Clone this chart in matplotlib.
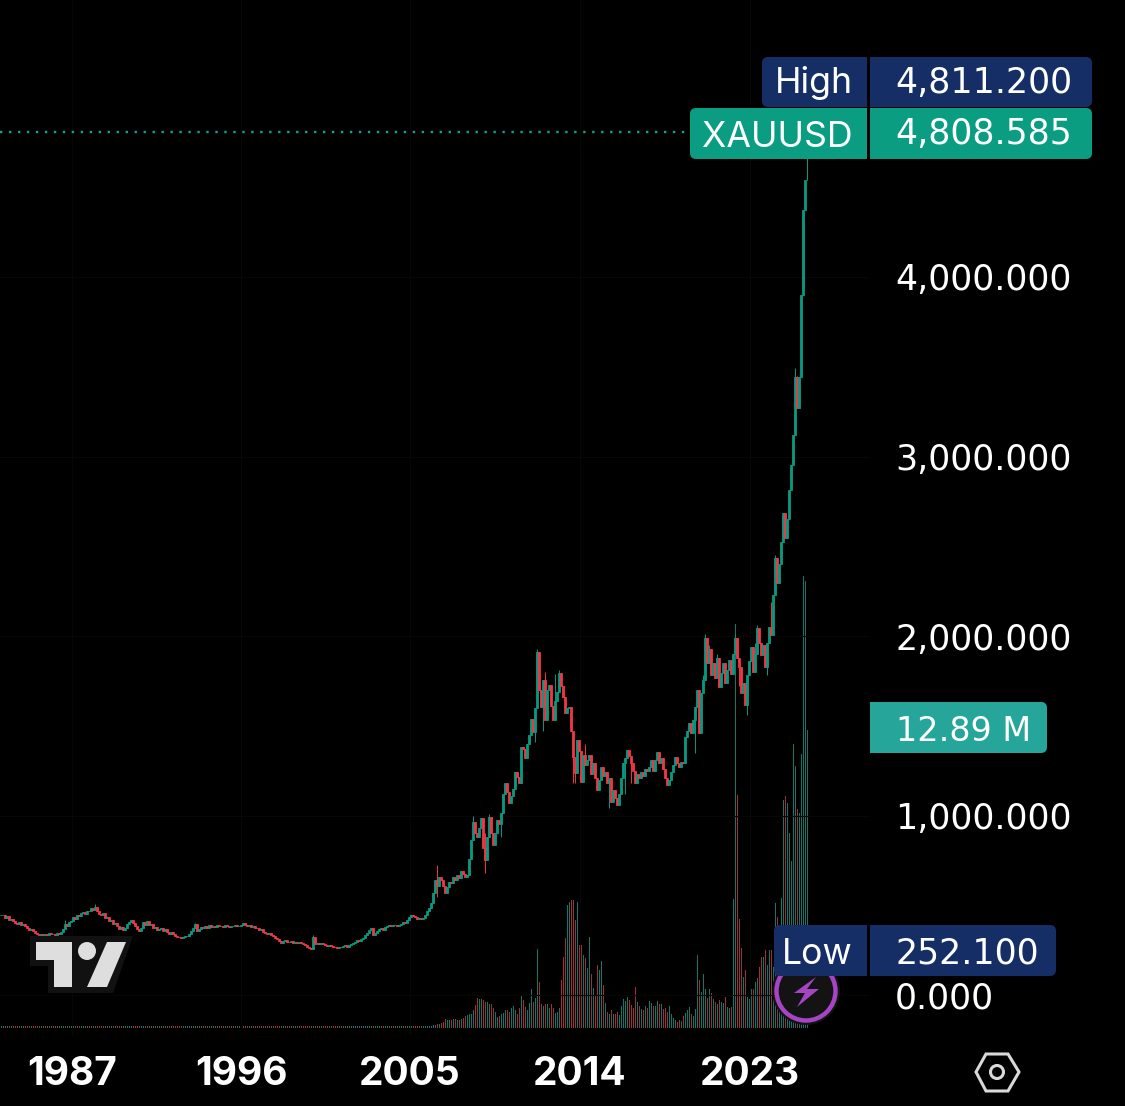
import matplotlib
matplotlib.use('Agg')
import matplotlib.pyplot as plt
from matplotlib.patches import FancyBboxPatch, Rectangle, Polygon, Circle
import numpy as np

plt.rcParams['font.family'] = ['Inter', 'DejaVu Sans']

# closes per candle, ten per row
closes = [
    445, 448, 430, 438, 420, 425, 410, 400, 396, 405,
    392, 398, 385, 375, 362, 368, 355, 345, 340, 336,
    338, 332, 340, 335, 345, 338, 342, 336, 348, 340,
    352, 365, 395, 385, 405, 412, 432, 425, 445, 440,
    455, 462, 452, 470, 468, 482, 475, 492, 470, 452,
    445, 458, 430, 436, 412, 418, 395, 402, 385, 370,
    378, 362, 372, 398, 405, 418, 402, 385, 365, 358,
    372, 405, 392, 412, 388, 395, 372, 378, 362, 368,
    372, 358, 365, 350, 342, 352, 338, 330, 325, 322,
    318, 322, 330, 328, 340, 355, 372, 395, 355, 365,
    378, 372, 382, 376, 388, 380, 385, 378, 388, 382,
    384, 378, 388, 384, 380, 385, 382, 388, 382, 386,
    388, 400, 392, 385, 388, 380, 382, 376, 372, 362,
    365, 352, 348, 340, 345, 332, 328, 318, 312, 300,
    292, 300, 305, 298, 295, 302, 292, 295, 288, 296,
    290, 284, 278, 270, 262, 258, 325, 285, 290, 282,
    292, 285, 278, 272, 280, 274, 268, 265, 262, 268,
    265, 272, 280, 268, 276, 285, 290, 298, 306, 300,
    312, 318, 332, 345, 362, 372, 334, 345, 355, 365,
    372, 362, 378, 385, 390, 384, 388, 392, 385, 390,
    396, 408, 402, 420, 432, 446, 440, 432, 426, 429,
    424, 430, 445, 470, 485, 510, 568, 640, 610, 657,
    640, 610, 568, 600, 630, 625, 655, 640, 668, 650,
    690, 672, 660, 668, 760, 863, 964, 905, 880, 930,
    986, 820, 752, 880, 992, 900, 837, 905, 975, 950,
    1014, 1120, 1181, 1130, 1070, 1110, 1150, 1242, 1215, 1181,
    1382, 1370, 1320, 1400, 1448, 1540, 1465, 1600, 1911, 1700,
    1604, 1755, 1532, 1700, 1727, 1610, 1532, 1640, 1688, 1794,
    1720, 1660, 1571, 1600, 1604, 1470, 1326, 1237, 1420, 1360,
    1187, 1337, 1280, 1310, 1337, 1230, 1290, 1210, 1142, 1200,
    1270, 1220, 1240, 1180, 1210, 1075, 1140, 1100, 1058, 1120,
    1210, 1292, 1320, 1365, 1330, 1290, 1250, 1181, 1230, 1210,
    1242, 1220, 1260, 1250, 1270, 1309, 1250, 1310, 1354, 1290,
    1320, 1260, 1210, 1170, 1200, 1240, 1280, 1326, 1290, 1270,
    1300, 1290, 1437, 1470, 1515, 1460, 1530, 1604, 1699, 1460,
    1680, 1755, 1990, 1850, 1930, 1780, 1850, 1766, 1880, 1716,
    1794, 1850, 1738, 1810, 1866, 1790, 1900, 1989, 1880, 1830,
    1682, 1740, 1616, 1783, 1860, 1939, 1800, 1900, 2045, 1960,
    1894, 1950, 1830, 1960, 2050, 2005, 2228, 2434, 2295, 2400,
    2524, 2685, 2546, 2650, 2813, 2953, 3120, 3443, 3270, 3443,
    3900, 4373, 4540, 4808.585,
]

# the wicks that are long enough to see, candle index -> price
wick_highs = {32: 420, 47: 505, 97: 401, 156: 334, 218: 724, 236: 1000, 242: 900,
              244: 1010, 268: 1925, 269: 1911, 272: 1800, 277: 1790, 279: 1810,
              286: 1340, 292: 1400, 351: 1780, 352: 2010, 354: 1950, 358: 1900,
              367: 2010, 377: 1960, 378: 2060, 385: 2190, 387: 2450,
              397: 3493, 398: 3450, 403: 4811.2}
wick_lows = {218: 546, 242: 680, 250: 880, 267: 1410, 271: 1470, 286: 1181, 287: 1181,
             304: 1040, 312: 1120, 315: 1180, 347: 1350, 369: 1720, 373: 1560,
             383: 1780, 400: 3443}

# volume bars, in units that are scaled so the last bar reads 12.89 M
early_volume = [2] * 215
later_volume = [
    2, 3, 3, 4, 4, 5, 6, 9, 8, 8, 8, 9, 9, 8, 8, 9, 10, 12, 13, 14,
    14, 18, 23, 30, 29, 29, 28, 26, 26, 24, 24, 20, 16, 11, 12, 14, 15, 18, 18, 16,
    20, 22, 18, 14, 20, 33, 28, 21, 18, 25, 39, 26, 30, 79, 46, 24, 22, 24, 24, 20,
    24, 20, 15, 16, 20, 48, 71, 90, 123, 126, 128, 128, 108, 126, 83, 83, 73, 70, 60, 91,
    54, 40, 33, 63, 58, 67, 43, 25, 16, 14, 18, 14, 14, 16, 13, 22, 29, 27, 31, 28,
    23, 20, 41, 26, 22, 19, 18, 22, 20, 27, 25, 22, 22, 27, 24, 24, 19, 20, 16, 22,
    14, 10, 8, 6, 8, 7, 12, 15, 18, 21, 14, 12, 19, 73, 48, 36, 54, 39, 30, 39,
    35, 29, 26, 24, 28, 26, 25, 31, 21, 20, 21, 129, 404, 233, 109, 80, 51, 58, 31, 29,
    39, 39, 46, 50, 61, 71, 71, 78, 63, 78, 78, 61, 125, 111, 70, 130, 228, 232, 225, 195,
    167, 284, 262, 219, 215, 274, 452, 447, 298,
]
volume = early_volume + later_volume

price_ticks = [0, 1000, 2000, 3000, 4000]
price_labels = ['0.000', '1,000.000', '2,000.000', '3,000.000', '4,000.000']
year_ticks = [35.5, 120, 204.5, 289.5, 374.5]
year_labels = ['1987', '1996', '2005', '2014', '2023']
last_price = 4808.585

UP = '#089981'
DOWN = '#F23645'
UP_VOL = '#14756a'
DOWN_VOL = '#9a3238'
NAVY = '#152f66'
TAG_GREEN = '#0a9d82'
W, H = 1125, 1106
AX_RIGHT, AX_BOTTOM = 870, 1035

fig = plt.figure(figsize=(W / 100, H / 100), dpi=100, facecolor='black')
ax = fig.add_axes([0, 1 - AX_BOTTOM / H, AX_RIGHT / W, AX_BOTTOM / H])
vol_ax = ax.twinx()
ax.set_zorder(2)
vol_ax.set_zorder(1)
ax.patch.set_visible(False)
vol_ax.set_facecolor('black')

closes = np.array(closes, dtype=float)
opens = np.r_[closes[0], closes[:-1]]
idx = np.arange(len(closes))
up = closes >= opens

for i in idx:
    colour = UP if up[i] else DOWN
    hi = wick_highs.get(i, max(opens[i], closes[i]))
    lo = wick_lows.get(i, min(opens[i], closes[i]))
    ax.vlines(i, lo, hi, color=colour, lw=0.7, zorder=3)
# the newest candle is only a sliver in the reference
body_width = np.where(idx == idx[-1], 0.4, 1.35)
ax.bar(idx, np.abs(closes - opens), bottom=np.minimum(opens, closes), width=body_width,
       color=[UP if u else DOWN for u in up], edgecolor=[UP if u else DOWN for u in up],
       linewidth=0.6, zorder=4)

# price scale: 179.5 px per 1000, 0 sits at y=995
ax.set_xlim(-0.5, (AX_RIGHT - 1) / 2)
ax.set_ylim((995 - AX_BOTTOM) / 0.1795, 995 / 0.1795)
ax.plot([-0.5, 345], [last_price, last_price], color='#0aa88e', lw=1.7, zorder=2,
        linestyle=(0, (1.0, 2.8)))

vol_scale = 12.89 / volume[-1]
vol_m = np.array(volume) * vol_scale
vol_ax.bar(idx, vol_m, width=0.5, color=[UP_VOL if u else DOWN_VOL for u in up], linewidth=0)
vol_ax.set_ylim(-(AX_BOTTOM - 1027.5) * vol_scale, 1027.5 * vol_scale)
vol_ax.set_yticks([])

ax.yaxis.tick_right()
ax.set_yticks(price_ticks)
ax.set_yticklabels(price_labels, fontsize=25, color='white', ha='left', va='center_baseline',
                   family='DejaVu Sans')
ax.set_xticks(year_ticks)
ax.set_xticklabels(year_labels, fontsize=28, color='white', fontweight='bold')
ax.tick_params(axis='y', length=0, pad=18)
ax.tick_params(axis='x', length=0, pad=15)
ax.grid(True, color='#070707', lw=0.8)
ax.set_axisbelow(True)
for a in (ax, vol_ax):
    for s in a.spines.values():
        s.set_visible(False)

# overlay in pixel coordinates for the tags and the icons
over = fig.add_axes([0, 0, 1, 1], zorder=5)
over.set_xlim(0, W)
over.set_ylim(H, 0)
over.axis('off')
over.patch.set_visible(False)


def tag(x0, x1, y0, y1, colour, square_side=None):
    over.add_patch(FancyBboxPatch((x0 + 6, y0 + 6), x1 - x0 - 12, y1 - y0 - 12,
                                  boxstyle='round,pad=6,rounding_size=6',
                                  fc=colour, ec='none', zorder=2))
    if square_side == 'right':
        over.add_patch(Rectangle((x1 - 10, y0), 10, y1 - y0, fc=colour, ec='none', zorder=2))
    if square_side == 'left':
        over.add_patch(Rectangle((x0, y0), 10, y1 - y0, fc=colour, ec='none', zorder=2))


# purple lightning badge, partly under the Low tag
over.add_patch(Circle((806, 991), 34, fc='#131313', ec='none', zorder=1))
over.add_patch(Circle((806, 991), 29.5, fc='#131313', ec='#a545c4', lw=3.2, zorder=1))
over.add_patch(Polygon([(816, 977), (794, 993), (805, 993), (797, 1007), (819, 989), (807, 989)],
                       fc='#a545c4', ec='none', zorder=1))

tag(762, 867, 57, 107, NAVY, 'right')
tag(870, 1092, 57, 107, NAVY, 'left')
tag(690, 867, 108, 159, TAG_GREEN, 'right')
tag(870, 1092, 108, 159, TAG_GREEN, 'left')
tag(870, 1047, 702, 753, '#26a69a', 'left')
tag(774, 867, 925, 976, NAVY, 'right')
tag(870, 1056, 925, 976, NAVY, 'left')

for txt, y in (('High', 93), ('XAUUSD', 147), ('Low', 964)):
    over.text(853, y, txt, color='white', fontsize=25.7, ha='right', va='baseline', zorder=3)
for txt, y in (('4,811.200', 93), ('4,808.585', 144), ('252.100', 964)):
    over.text(895, y, txt, color='white', fontsize=25, ha='left', va='baseline', zorder=3,
              family='DejaVu Sans')
over.text(896, 741, '12.89 M', color='white', fontsize=24, ha='left', va='baseline', zorder=3,
          family='DejaVu Sans')

# tradingview mark
over.add_patch(Polygon([(30, 936), (133, 936), (113, 993), (48, 993), (48, 966), (30, 966)],
                       fc='#111111', ec='none', zorder=1))
over.add_patch(Polygon([(36, 942), (72, 942), (72, 987), (54, 987), (54, 960), (36, 960)],
                       fc='#dedede', ec='none', zorder=2))
over.add_patch(Circle((87, 951), 9, fc='#dedede', ec='none', zorder=2))
over.add_patch(Polygon([(107, 942), (126, 942), (107, 987), (87, 987)],
                       fc='#dedede', ec='none', zorder=2))

# settings hexagon
over.add_patch(Polygon([(976, 1072), (986, 1054), (1008, 1054), (1019, 1072), (1008, 1091), (986, 1091)],
                       fc='none', ec='#d9d9d9', lw=2.2, zorder=2))
over.add_patch(Circle((997, 1072), 6.5, fc='none', ec='#d9d9d9', lw=2.2, zorder=2))

fig.savefig('out.png', dpi=100, facecolor='black')
